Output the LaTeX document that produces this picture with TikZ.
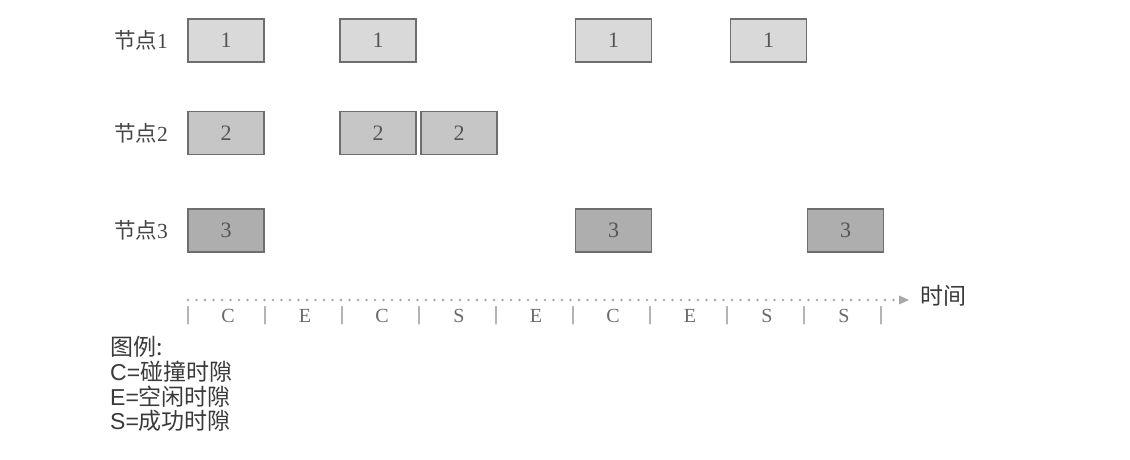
\documentclass[tikz,border=0pt]{standalone}
\usepackage{fontspec}
\setmainfont{Liberation Serif}
\newfontfamily\cjk{Noto Sans CJK SC}
\newfontfamily\lsans{Liberation Sans}
\usetikzlibrary{arrows.meta}
\definecolor{fillA}{HTML}{D9D9D9}
\definecolor{fillB}{HTML}{C6C6C6}
\definecolor{fillC}{HTML}{AEAEAE}
\definecolor{boxline}{HTML}{6E6E6E}
\definecolor{numtext}{HTML}{555555}
\definecolor{labtext}{HTML}{454545}
\definecolor{legtext}{HTML}{3A3A3A}
\definecolor{tltext}{HTML}{6A6A6A}
\definecolor{dotgray}{HTML}{A8A8A8}
\tikzset{
  slotbox/.style={draw=boxline, line width=1.1pt, minimum width=76pt, minimum height=43pt,
    inner sep=0pt, text=numtext, font=\fontsize{22}{22}\selectfont},
  boxA/.style={slotbox, fill=fillA},
  boxB/.style={slotbox, fill=fillB},
  boxC/.style={slotbox, fill=fillC},
  rowlabel/.style={anchor=east, inner sep=0pt, text=labtext, font=\fontsize{21.5}{21.5}\selectfont},
  tick/.style={inner sep=0pt, text=tltext, font=\fontsize{20}{20}\selectfont},
  slotletter/.style={inner sep=0pt, text=tltext, font=\fontsize{20}{20}\selectfont},
  legend/.style={anchor=west, inner sep=0pt, text=legtext, font=\fontsize{23}{23}\selectfont},
  dotline/.style={draw=dotgray, line width=2.6pt, line cap=round, dash pattern=on 0pt off 8.5pt},
}
\begin{document}
\begin{tikzpicture}[x=1pt,y=-1pt]
\useasboundingbox[fill=white] (0,0) rectangle (1130,460);

% row labels
\node[rowlabel] (l1) at (168,40.5) {{\cjk 节点}1};
\node[rowlabel] (l2) at (168,133) {{\cjk 节点}2};
\node[rowlabel] (l3) at (168,230.5) {{\cjk 节点}3};

% node 1 transmissions
\node[boxA] (a0) at (226,40.5) {1};
\node[boxA] (a2) at (378,40.5) {1};
\node[boxA] (a5) at (613.5,40.5) {1};
\node[boxA] (a7) at (768.5,40.5) {1};

% node 2 transmissions
\node[boxB] (b0) at (226,133) {2};
\node[boxB] (b2) at (378,133) {2};
\node[boxB] (b3) at (459,133) {2};

% node 3 transmissions
\node[boxC] (c0) at (226,230.5) {3};
\node[boxC] (c5) at (613.5,230.5) {3};
\node[boxC] (c8) at (845.5,230.5) {3};

% time axis
\coordinate (t0) at (188,300);
\coordinate (t1) at (899,300);
\coordinate (t2) at (909,300);
\draw[dotline] (t0) -- (t1);
\fill[dotgray] (t2) -- ++(-10,-4.5) -- ++(0,9) -- cycle;
\node[anchor=west, inner sep=0pt, text=legtext, font=\cjk\fontsize{23}{23}\selectfont] (tl) at (920,296) {时间};

% slot separators and slot letters
\foreach \k in {0,...,9} {
  \node[tick] (s\k) at (188+77*\k,316) {|};
}
\foreach \k/\c in {0/C,1/E,2/C,3/S,4/E,5/C,6/E,7/S,8/S} {
  \node[slotletter] (m\k) at (228+77*\k,316) {\c};
}

% legend
\node[legend] (g0) at (110,347) {\cjk 图例:};
\node[legend] (g1) at (110,372) {{\lsans C=}{\cjk 碰撞时隙}};
\node[legend] (g2) at (110,397) {{\lsans E=}{\cjk 空闲时隙}};
\node[legend] (g3) at (110,421) {{\lsans S=}{\cjk 成功时隙}};
\end{tikzpicture}
\end{document}
